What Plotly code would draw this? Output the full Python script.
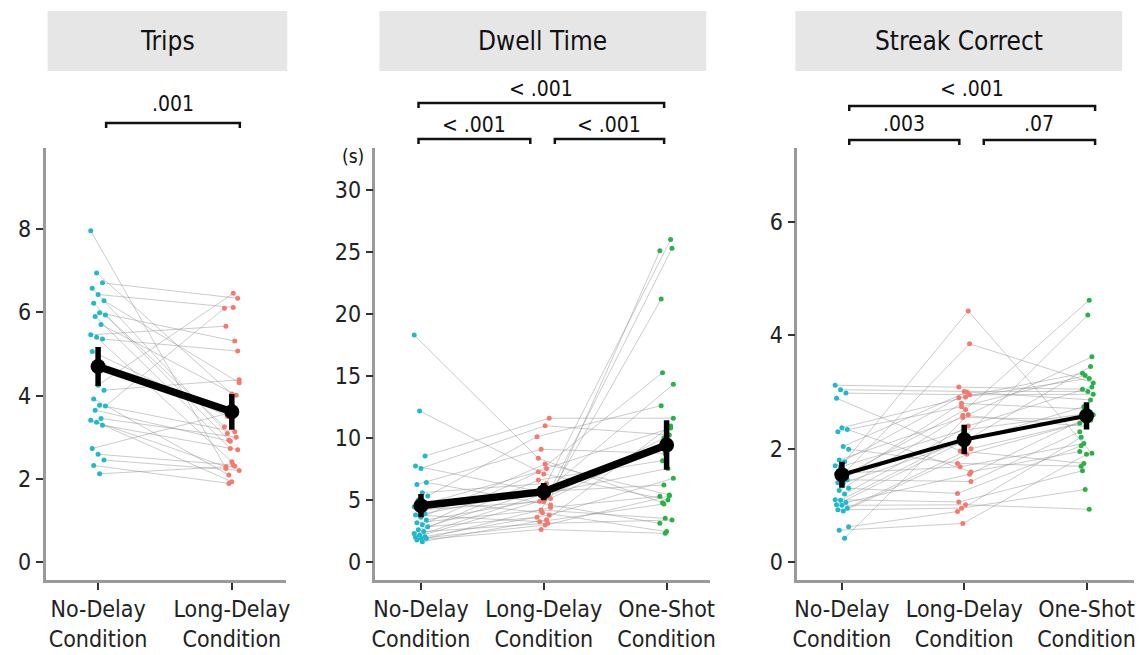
import plotly.graph_objects as go

# ---------------- data ----------------
TRIPS_CATS = ["No-Delay<br>Condition", "Long-Delay<br>Condition"]
THREE_CATS = ["No-Delay<br>Condition", "Long-Delay<br>Condition", "One-Shot<br>Condition"]

trips_nodelay = [7.96, 6.95, 6.71, 6.58, 6.43, 6.28, 6.22, 5.99, 5.94, 5.90, 5.71, 5.46, 5.40, 5.36, 5.06,
                 4.25, 4.13, 3.92, 3.77, 3.75, 3.65, 3.45, 3.41, 3.36, 3.29, 2.73, 2.59, 2.45, 2.32, 2.12]
trips_longdelay = [2.25, 4.04, 6.34, 3.09, 6.12, 4.31, 2.93, 5.31, 3.25, 2.73, 4.01, 5.67, 2.41, 5.07, 3.50,
                   6.46, 4.38, 2.09, 3.13, 6.10, 2.90, 3.00, 2.29, 1.93, 2.70, 3.57, 2.33, 2.20, 1.89, 2.30]
trips_mean = [4.70, 3.61]
trips_err = [0.47, 0.43]

dwell_nodelay = [18.3, 12.18, 8.55, 7.74, 7.55, 6.42, 6.26, 5.59, 5.32, 5.0, 4.8, 4.46, 4.2, 3.9, 3.79,
                 3.60, 3.39, 3.17, 3.0, 2.85, 2.6, 2.45, 2.3, 2.18, 2.04, 2.0, 1.91, 1.9, 1.77, 1.64]
dwell_longdelay = [8.36, 7.10, 11.59, 5.67, 10.99, 4.60, 9.09, 6.34, 10.11, 3.98, 5.40, 7.28, 4.87, 5.94, 3.25,
                   7.9, 5.13, 4.19, 7.55, 3.60, 5.8, 3.12, 6.61, 5.5, 3.79, 4.9, 2.98, 4.4, 2.63, 3.4]
dwell_oneshot = [4.78, 5.0, 11.6, 6.21, 10.24, 3.12, 8.76, 26.0, 12.61, 2.45, 25.3, 15.27, 9.70, 14.33, 4.68,
                 5.40, 25.1, 3.52, 10.8, 21.2, 9.2, 3.39, 8.17, 7.55, 6.75, 10.0, 5.32, 5.3, 2.31, 10.97]
dwell_mean = [4.54, 5.67, 9.44]
dwell_err = [0.94, 0.70, 2.0]

streak_nodelay = [3.12, 3.04, 2.98, 2.89, 2.37, 2.34, 2.3, 2.04, 1.99, 1.8, 1.77, 1.7, 1.68, 1.6, 1.56, 1.5, 1.45,
                  1.4, 1.39, 1.3, 1.26, 1.2, 1.1, 1.09, 1.05, 1.01, 1.0, 0.95, 0.92, 0.9, 0.62, 0.56, 0.42]
streak_longdelay = [3.09, 3.01, 2.95, 1.96, 2.91, 1.59, 2.74, 3.0, 1.74, 2.55, 4.43, 2.9, 2.33, 3.85, 1.68, 2.69, 1.42,
                    2.8, 2.15, 1.21, 2.59, 2.4, 1.06, 2.2, 1.55, 2.1, 1.01, 2.0, 0.95, 1.9, 0.89, 0.68, 2.6]
streak_oneshot = [3.05, 3.01, 2.96, 1.74, 3.24, 1.95, 3.29, 2.86, 1.69, 2.51, 1.92, 3.33, 2.62, 3.16, 2.09, 4.62, 2.30,
                  2.7, 3.45, 2.05, 2.39, 3.09, 1.61, 4.36, 2.6, 2.74, 0.93, 2.45, 1.28, 2.5, 2.2, 1.9, 3.62]
streak_mean = [1.54, 2.16, 2.58]
streak_err = [0.23, 0.26, 0.24]

TITLES = ["Trips", "Dwell Time", "Streak Correct"]
TRIPS_TICKS = [0, 2, 4, 6, 8]
DWELL_TICKS = [0, 5, 10, 15, 20, 25, 30]
STREAK_TICKS = [0, 2, 4, 6]

# ---------------- style ----------------
W, H = 1146, 655
FONT = "DejaVu Sans Condensed, Liberation Sans Narrow, sans-serif"
COLORS = ["#21b8cc", "#f47a70", "#2cb04a"]
LINE_GREY = "rgba(140,140,140,0.45)"


def px(x):
    return x / W


def py(y):
    return 1 - y / H


def jitter(i):
    return ((i * 37) % 11 - 5) / 5 * 0.055


fig = go.Figure()

panels = [
    dict(groups=[trips_nodelay, trips_longdelay], mean=trips_mean, err=trips_err, cats=TRIPS_CATS,
         ticks=TRIPS_TICKS, xpx=(41, 284), cat0=94, step=135, ppu=41.6, mw=7.5),
    dict(groups=[dwell_nodelay, dwell_longdelay, dwell_oneshot], mean=dwell_mean, err=dwell_err, cats=THREE_CATS,
         ticks=DWELL_TICKS, xpx=(374, 712), cat0=420, step=124, ppu=12.4, mw=7.5),
    dict(groups=[streak_nodelay, streak_longdelay, streak_oneshot], mean=streak_mean, err=streak_err, cats=THREE_CATS,
         ticks=STREAK_TICKS, xpx=(800, 1140), cat0=845, step=123.5, ppu=56.67, mw=4),
]

Y0, YTOP, YBOT = 562, 148, 580

for k, p in enumerate(panels):
    sfx = "" if k == 0 else str(k + 1)
    xa, ya = "x" + sfx, "y" + sfx
    groups = p["groups"]
    n = len(groups[0])
    xs_j = [[g + jitter(i + 3 * g) for i in range(n)] for g in range(len(groups))]
    # subject lines
    lx, ly = [], []
    for i in range(n):
        for g in range(len(groups)):
            lx.append(xs_j[g][i])
            ly.append(groups[g][i])
        lx.append(None)
        ly.append(None)
    fig.add_trace(go.Scatter(x=lx, y=ly, mode="lines", line=dict(color=LINE_GREY, width=1),
                             xaxis=xa, yaxis=ya, showlegend=False, hoverinfo="skip"))
    for g in range(len(groups)):
        fig.add_trace(go.Scatter(x=xs_j[g], y=groups[g], mode="markers",
                                 marker=dict(color=COLORS[g], size=5, line=dict(width=0)),
                                 xaxis=xa, yaxis=ya, showlegend=False))
    m = len(groups)
    fig.add_trace(go.Scatter(x=list(range(m)), y=p["mean"], mode="lines+markers",
                             line=dict(color="black", width=p["mw"]),
                             marker=dict(color="black", size=15),
                             error_y=dict(type="data", array=p["err"], color="black", thickness=5.5, width=0),
                             xaxis=xa, yaxis=ya, showlegend=False))
    x0p, x1p = p["xpx"]
    xr = [(x0p - p["cat0"]) / p["step"], (x1p - p["cat0"]) / p["step"]]
    yr = [(Y0 - YBOT) / p["ppu"], (Y0 - YTOP) / p["ppu"]]
    axcommon = dict(showgrid=False, zeroline=False, showline=True, linecolor="#9a9a9a", linewidth=2.5,
                    ticks="outside", tickcolor="#333333", tickwidth=2, ticklen=7,
                    tickfont=dict(family=FONT, size=23, color="#222222"))
    fig.layout["xaxis" + sfx] = dict(domain=[px(x0p), px(x1p)], range=xr, anchor=ya,
                                     tickvals=list(range(m)), ticktext=p["cats"], **axcommon)
    fig.layout["yaxis" + sfx] = dict(domain=[py(YBOT), py(YTOP)], range=yr, anchor=xa,
                                     tickvals=p["ticks"], ticktext=[str(t) for t in p["ticks"]], **axcommon)

# strip boxes and titles
strips = [(43, 285), (378, 708), (798, 1128)]
for (a, b), t in zip(strips, TITLES):
    fig.add_shape(type="rect", xref="paper", yref="paper", x0=px(a), x1=px(b), y0=py(71), y1=py(11),
                  fillcolor="#e6e6e6", line=dict(width=0), layer="below")
    fig.add_annotation(x=px((a + b) / 2), y=py(41), xref="paper", yref="paper", text=t, showarrow=False,
                       font=dict(family=FONT, size=26, color="#111111"), xanchor="center", yanchor="middle")

# significance brackets: (axis suffix, x start, x end, bracket y px, label y px, label)
brackets = [
    ("", 0.06, 1.06, 123, 104, ".001"),
    ("2", -0.02, 1.98, 103, 89, "< .001"),
    ("2", -0.02, 0.89, 139, 125, "< .001"),
    ("2", 1.09, 1.98, 139, 125, "< .001"),
    ("3", 0.06, 2.07, 106, 89, "< .001"),
    ("3", 0.06, 0.96, 140, 124, ".003"),
    ("3", 1.16, 2.07, 140, 124, ".07"),
]
for sfx, xa0, xa1, by, ly_, lab in brackets:
    xr_ = "x" + sfx
    fig.add_shape(type="path", xref=xr_, yref="paper",
                  path=f"M {xa0} {py(by + 5)} L {xa0} {py(by)} L {xa1} {py(by)} L {xa1} {py(by + 5)}",
                  line=dict(color="#111111", width=2.5))
    fig.add_annotation(x=(xa0 + xa1) / 2, y=py(ly_), xref=xr_, yref="paper", text=lab, showarrow=False,
                       font=dict(family=FONT, size=21, color="#111111"), xanchor="center", yanchor="middle")

fig.add_annotation(x=px(351), y=py(156), xref="paper", yref="paper", text="(s)", showarrow=False,
                   font=dict(family=FONT, size=19, color="#111111"), xanchor="center", yanchor="middle")

fig.update_layout(width=W, height=H, margin=dict(l=0, r=0, t=0, b=0),
                  paper_bgcolor="white", plot_bgcolor="white", showlegend=False)

fig.write_html("out.html", config={"displayModeBar": False},
               post_script="document.body.style.margin='0px';document.body.style.overflow='hidden';")
